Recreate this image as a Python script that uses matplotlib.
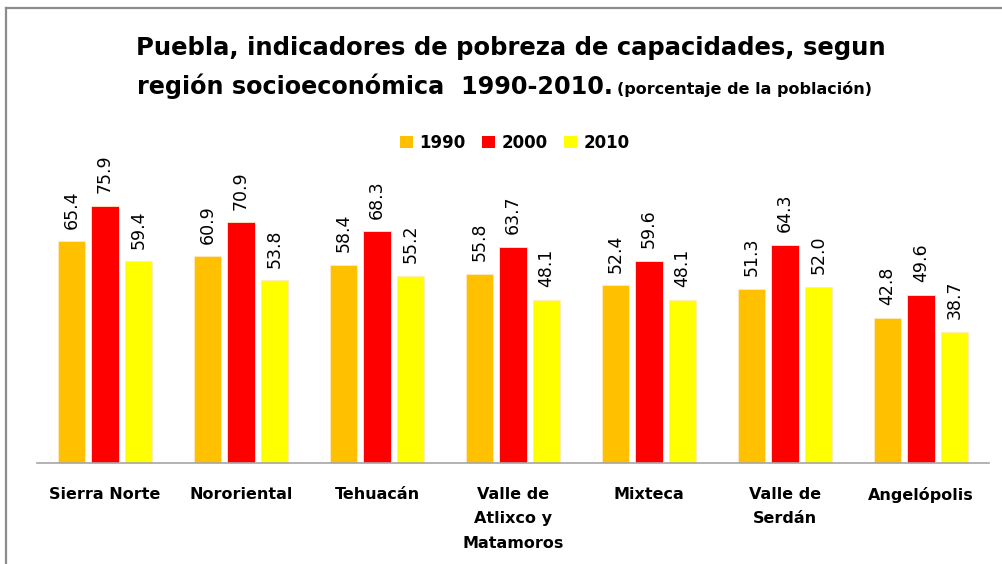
import numpy as np
import matplotlib.pyplot as plt
from matplotlib.lines import Line2D
from matplotlib.patches import Patch

regiones = ['Sierra Norte', 'Nororiental', 'Tehuacán', 'Valle de\nAtlixco y\nMatamoros',
            'Mixteca', 'Valle de\nSerdán', 'Angelópolis']
anios = ['1990', '2000', '2010']
v1990 = [65.4, 60.9, 58.4, 55.8, 52.4, 51.3, 42.8]
v2000 = [75.9, 70.9, 68.3, 63.7, 59.6, 64.3, 49.6]
v2010 = [59.4, 53.8, 55.2, 48.1, 48.1, 52.0, 38.7]
colores = ['#FFC000', '#FF0000', '#FFFF00']

W, H = 1003, 564
fig = plt.figure(figsize=(W / 100, H / 100), dpi=100)
ax = fig.add_axes([37 / W, (H - 463) / H, (989 - 37) / W, (463 - 100) / H])

x = np.arange(len(regiones))
ancho = 0.2
paso = 0.246
for i, (serie, color) in enumerate(zip([v1990, v2000, v2010], colores)):
    pos = x + (i - 1) * paso
    ax.bar(pos, serie, width=ancho, color=color, edgecolor='#ffe9c0', linewidth=0.6)
    for xp, v in zip(pos, serie):
        ax.annotate(f'{v:.1f}', (xp, v), xytext=(0, 9), textcoords='offset points',
                    rotation=90, ha='center', va='bottom', fontsize=12.5)

ax.set_xlim(-0.5, 6.5)
ax.set_ylim(0, 107)
ax.set_yticks([])
ax.set_xticks(x)
ax.set_xticklabels(regiones, fontsize=11.5, fontweight='bold', linespacing=1.8)
ax.tick_params(axis='x', length=0, pad=17)
for s in ['top', 'right', 'left']:
    ax.spines[s].set_visible(False)
ax.spines['bottom'].set_color('#a6a6a6')
ax.spines['bottom'].set_linewidth(1.2)

# legend
handles = [Patch(facecolor=c, edgecolor='none') for c in colores]
fig.legend(handles, anios, loc='center', bbox_to_anchor=(515 / W, (H - 143) / H), ncol=3,
           frameon=False, prop={'weight': 'bold', 'size': 12}, handlelength=0.75,
           handleheight=0.75, handletextpad=0.4, columnspacing=1.0)

# title
fig.text(511 / W, (H - 48) / H, 'Puebla, indicadores de pobreza de capacidades, segun',
         ha='center', va='center', fontsize=17.5, fontweight='bold')
fig.text(613 / W, (H - 94) / H, 'región socioeconómica  1990-2010.',
         ha='right', va='baseline', fontsize=17.2, fontweight='bold')
fig.text(617 / W, (H - 94) / H, '(porcentaje de la población)',
         ha='left', va='baseline', fontsize=11.5, fontweight='bold')

# chart frame (top and left edges visible)
fig.add_artist(Line2D([6 / W, 1.0], [(H - 8) / H, (H - 8) / H], color='#8c8c8c', lw=1.6))
fig.add_artist(Line2D([6 / W, 6 / W], [0, (H - 8) / H], color='#8c8c8c', lw=1.6))

fig.savefig('out.png', dpi=100)
